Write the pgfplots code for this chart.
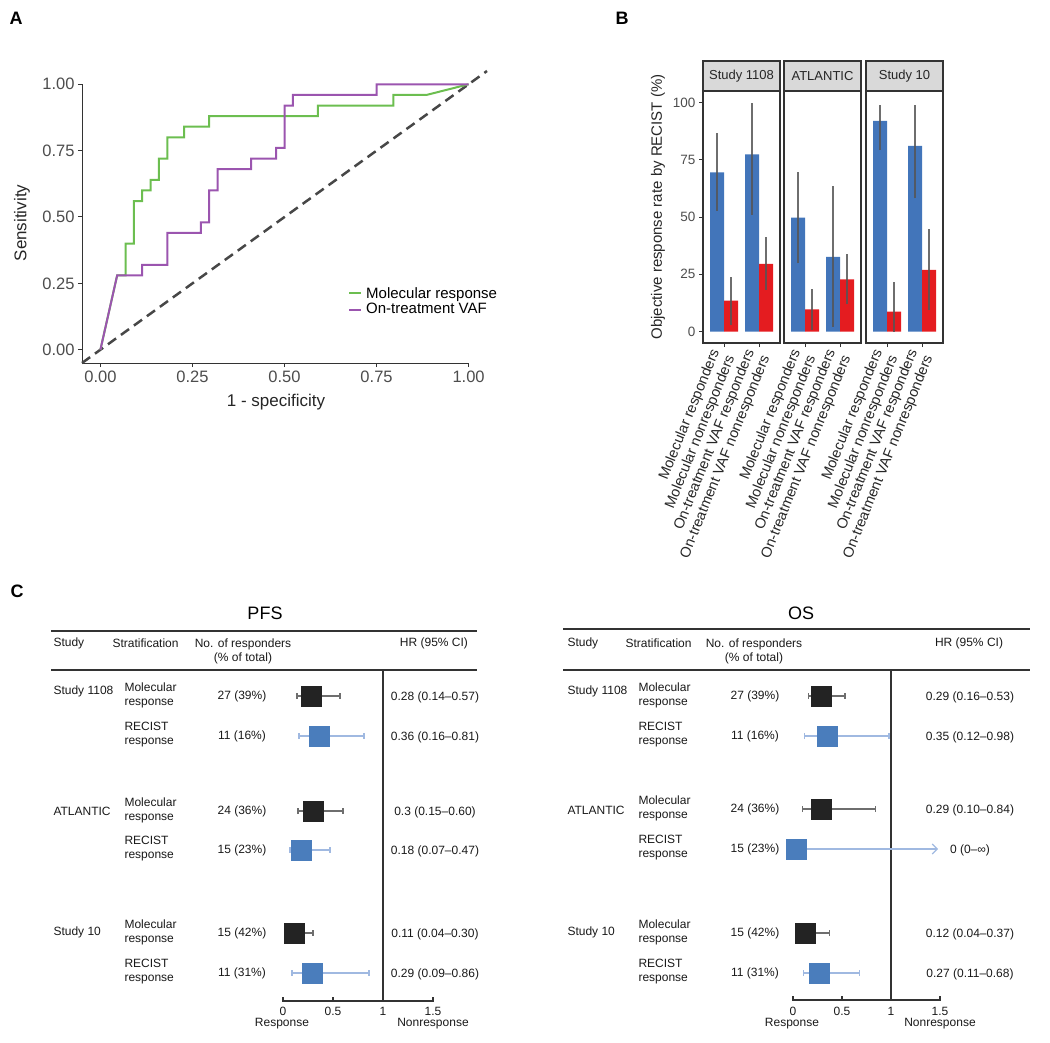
\documentclass[border=0pt]{standalone}
\usepackage{fontspec}
\setmainfont{Liberation Sans}
\usepackage{pgfplots}
\pgfplotsset{compat=1.18}
\usetikzlibrary{arrows.meta}
\definecolor{rocgreen}{RGB}{108,190,80}
\definecolor{rocpurple}{RGB}{155,85,175}
\definecolor{barblue}{RGB}{66,117,186}
\definecolor{barred}{RGB}{228,28,32}
\definecolor{gr30}{RGB}{77,77,77}
\definecolor{gr20}{RGB}{51,51,51}
\definecolor{stripgray}{RGB}{217,217,217}
\definecolor{boxblue}{RGB}{74,125,188}
\definecolor{boxblack}{RGB}{35,35,35}
\definecolor{whiskblue}{RGB}{160,185,225}
\definecolor{whiskgray}{RGB}{110,110,110}
\definecolor{errgray}{RGB}{85,85,85}
\newcommand{\fsz}[2]{\fontsize{#1}{#2}\selectfont}
\pgfplotsset{
  bpanel/.style={scale only axis, width=77pt, height=252pt, xmin=0.4, xmax=2.6, ymin=-5, ymax=105,
    axis line style={gr20, line width=1.2pt},
    xtick={1,2},
    xticklabels={{Molecular responders\\Molecular nonresponders},{On-treatment VAF responders\\On-treatment VAF nonresponders}},
    xticklabel style={rotate=68, anchor=east, align=right, font=\fsz{14.5}{16.5}, text=black!85, inner sep=1pt},
    xticklabel shift=5pt,
    tick align=outside, major tick length=4pt, tick style={gr20, line width=1pt},
    xtick pos=bottom, ytick pos=left, clip=false,
    yticklabel style={font=\fsz{13.5}{14}, text=gr30}},
  bblue/.style={ybar, bar shift=0pt, bar width=0.4, fill=barblue, draw=none},
  bred/.style={ybar, bar shift=0pt, bar width=0.4, fill=barred, draw=none},
  berr/.style={errgray, line width=1.8pt, opacity=0.85, mark=none},
  fpanel/.style={scale only axis, hide axis, clip=false},
  fblack/.style={only marks, mark=square*, mark size=10pt, boxblack, mark options={draw=boxblack, fill=boxblack},
    error bars/.cd, x dir=both, x explicit, error mark=|, error bar style={whiskgray, line width=1.2pt},
    error mark options={whiskgray, mark size=3pt, line width=1.2pt}},
  fblue/.style={only marks, mark=square*, mark size=10pt, boxblue, mark options={draw=boxblue, fill=boxblue},
    error bars/.cd, x dir=both, x explicit, error mark=|, error bar style={whiskblue, line width=1.2pt},
    error mark options={whiskblue, mark size=3pt, line width=1.2pt}},
}
\begin{document}
\begin{tikzpicture}
\path[use as bounding box] (0,0) rectangle (1050pt,-1043pt);

% ---------------- Panel A ----------------
\begin{axis}[at={(82pt,-363pt)}, anchor=south west, scale only axis, width=405pt, height=292pt,
  xmin=-0.05, xmax=1.05, ymin=-0.05, ymax=1.05,
  axis lines=left, axis line style={draw=none,-},
  xtick={0,0.25,0.5,0.75,1}, xticklabels={0.00,0.25,0.50,0.75,1.00},
  ytick={0,0.25,0.5,0.75,1}, yticklabels={0.00,0.25,0.50,0.75,1.00},
  tick align=outside, major tick length=4pt, tick style={gr20, line width=1pt},
  ticklabel style={font=\fsz{16.5}{16.5}, text=gr30}, clip=false,
  legend style={at={(axis cs:0.6725,0.244)}, anchor=north west, draw=none, fill=none,
    font=\fsz{15}{15}, inner sep=0pt, row sep=0pt,
    /tikz/every even column/.append style={column sep=3pt}},
  legend cell align=left,
  legend image code/.code={\draw[#1, line width=2pt] (0pt,0pt) -- (12pt,0pt);}]
\draw[gr20, line width=1pt] (axis cs:-0.05,-0.05) -- (axis cs:1,-0.05);
\draw[gr20, line width=1pt] (axis cs:-0.05,-0.05) -- (axis cs:-0.05,1);
\addplot[forget plot, gr20!90, line width=2.5pt, dash pattern=on 10pt off 6pt] coordinates {(-0.05,-0.05) (1.05,1.05)};
\addplot[rocgreen, line width=2pt, mark=none] coordinates {
(0,0) (0.0455,0.28) (0.0682,0.28) (0.0682,0.40) (0.0909,0.40) (0.0909,0.56) (0.1136,0.56) (0.1136,0.60)
(0.1364,0.60) (0.1364,0.64) (0.1591,0.64) (0.1591,0.72) (0.1818,0.72) (0.1818,0.80) (0.2273,0.80) (0.2273,0.84)
(0.2955,0.84) (0.2955,0.88) (0.5909,0.88) (0.5909,0.92) (0.7955,0.92) (0.7955,0.96) (0.8864,0.96) (1,1)};
\addlegendentry{\hspace{2pt}Molecular response}
\addplot[rocpurple, line width=2pt, mark=none] coordinates {
(0,0) (0.0455,0.28) (0.1136,0.28) (0.1136,0.32) (0.1818,0.32) (0.1818,0.44) (0.2727,0.44) (0.2727,0.48)
(0.2955,0.48) (0.2955,0.60) (0.3182,0.60) (0.3182,0.68) (0.4091,0.68) (0.4091,0.72) (0.4773,0.72) (0.4773,0.76)
(0.5,0.76) (0.5,0.92) (0.5227,0.92) (0.5227,0.96) (0.75,0.96) (0.75,1) (1,1)};
\addlegendentry{\hspace{2pt}On-treatment VAF}
\end{axis}

% ---------------- Panel B ----------------
\begin{axis}[bpanel, at={(703pt,-343pt)}, anchor=south west,
  ytick={0,25,50,75,100}, yticklabels={0,25,50,75,100}]
\addplot[bblue] coordinates {(0.8,69.5) (1.8,77.3)};
\addplot[bred] coordinates {(1.2,13.5) (2.2,29.5)};
\addplot[berr] coordinates {(0.8,52.8) (0.8,86.8)};
\addplot[berr] coordinates {(1.2,3) (1.2,24)};
\addplot[berr] coordinates {(1.8,50.9) (1.8,99.9)};
\addplot[berr] coordinates {(2.2,18.2) (2.2,41.4)};
\end{axis}
\begin{axis}[bpanel, at={(784pt,-343pt)}, anchor=south west, ytick=\empty]
\addplot[bblue] coordinates {(0.8,49.7) (1.8,32.6)};
\addplot[bred] coordinates {(1.2,9.7) (2.2,22.8)};
\addplot[berr] coordinates {(0.8,29.8) (0.8,69.6)};
\addplot[berr] coordinates {(1.2,0.7) (1.2,18.6)};
\addplot[berr] coordinates {(1.8,2.2) (1.8,63.5)};
\addplot[berr] coordinates {(2.2,12.1) (2.2,33.7)};
\end{axis}
\begin{axis}[bpanel, at={(866pt,-343pt)}, anchor=south west, ytick=\empty]
\addplot[bblue] coordinates {(0.8,92.0) (1.8,81.1)};
\addplot[bred] coordinates {(1.2,8.7) (2.2,26.9)};
\addplot[berr] coordinates {(0.8,79.2) (0.8,98.8)};
\addplot[berr] coordinates {(1.2,0) (1.2,21.7)};
\addplot[berr] coordinates {(1.8,58.1) (1.8,98.7)};
\addplot[berr] coordinates {(2.2,9.4) (2.2,44.6)};
\end{axis}

% ---------------- Panel C: PFS ----------------
\begin{axis}[fpanel, at={(51pt,-1001pt)}, anchor=south west, width=426pt, height=331pt,
  xmin=-2.32, xmax=1.94, ymin=-1001, ymax=-670]
\draw[gr20, line width=1.2pt] (axis cs:1,-670) -- (axis cs:1,-1001);
\draw[gr20, line width=1.2pt] (axis cs:0,-997) -- (axis cs:0,-1001) -- (axis cs:1.5,-1001) -- (axis cs:1.5,-997);
\draw[gr20, line width=1.2pt] (axis cs:0.5,-1001) -- (axis cs:0.5,-997);
\addplot[fblack] coordinates {(0.28,-696) -= (0.14,0) += (0.29,0)};
\addplot[fblue] coordinates {(0.36,-736) -= (0.20,0) += (0.45,0)};
\addplot[fblack] coordinates {(0.30,-811) -= (0.15,0) += (0.30,0)};
\addplot[fblue] coordinates {(0.18,-850) -= (0.11,0) += (0.29,0)};
\addplot[fblack] coordinates {(0.11,-933) -= (0.07,0) += (0.19,0)};
\addplot[fblue] coordinates {(0.29,-973) -= (0.20,0) += (0.57,0)};
\end{axis}

% ---------------- Panel C: OS ----------------
\begin{axis}[fpanel, at={(563pt,-1000pt)}, anchor=south west, width=467pt, height=330pt,
  xmin=-2.347, xmax=2.418, ymin=-1000, ymax=-670]
\draw[gr20, line width=1.2pt] (axis cs:1,-670) -- (axis cs:1,-1000);
\draw[gr20, line width=1.2pt] (axis cs:0,-996) -- (axis cs:0,-1000) -- (axis cs:1.5,-1000) -- (axis cs:1.5,-996);
\draw[gr20, line width=1.2pt] (axis cs:0.5,-1000) -- (axis cs:0.5,-996);
\addplot[fblack] coordinates {(0.29,-696) -= (0.13,0) += (0.24,0)};
\addplot[fblue] coordinates {(0.35,-736) -= (0.23,0) += (0.63,0)};
\addplot[fblack] coordinates {(0.29,-809) -= (0.19,0) += (0.55,0)};
\addplot[forget plot, whiskblue, line width=1.2pt, -{Straight Barb[length=5pt,width=10pt]}] coordinates {(0,-849) (1.48,-849)};
\addplot[only marks, mark=square*, mark size=10pt, boxblue, mark options={draw=boxblue, fill=boxblue}] coordinates {(0.03,-849)};
\addplot[fblack] coordinates {(0.12,-933) -= (0.08,0) += (0.25,0)};
\addplot[fblue] coordinates {(0.27,-973) -= (0.16,0) += (0.41,0)};
\end{axis}

% ---------------- Text and frames ----------------
\begin{scope}[x=1pt, y=-1pt]
\node[font=\bfseries\fsz{18}{18}] at (16,18) {A};
\node[font=\bfseries\fsz{18}{18}] at (622,18) {B};
\node[font=\bfseries\fsz{18}{18}] at (17,591) {C};
% panel A labels
\node[font=\fsz{17}{17}, text=black!85] at (276,402) {1 - specificity};
\node[font=\fsz{17}{17}, text=black!85, rotate=90] at (22,223) {Sensitivity};
% panel B strips and ylabel
\foreach \xa/\xb/\lab in {703/780/Study 1108, 784/861/ATLANTIC, 866/943/Study 10}{
  \draw[gr20, line width=1.2pt, fill=stripgray] (\xa,61) rectangle (\xb,91);
  \node[font=\fsz{13}{13}, text=black!85] at ({(\xa+\xb)/2},76) {\lab};
}
\node[font=\fsz{15}{15}, text=black!85, rotate=90] at (658,207) {Objective response rate by RECIST (\%)};
% panel C : PFS
\node[font=\fsz{18}{18}] at (265,613) {PFS};
\draw[gr20, line width=1.3pt] (51,631) -- (477,631);
\draw[gr20, line width=1.3pt] (51,670) -- (477,670);
\begin{scope}[every node/.style={font=\fsz{12}{14}, text=black!90}]
\node[anchor=west] at (50,643) {Study};
\node[anchor=west] at (109,643) {Stratification};
\node[align=center] at (243,651) {No. of responders\\(\% of total)};
\node at (434,643) {HR (95\% CI)};
\node[anchor=west] at (50,691) {Study 1108};
\node[anchor=west] at (50,811) {ATLANTIC};
\node[anchor=west] at (50,932) {Study 10};
\foreach \yy/\st/\cnt/\hr in {696/Molecular/27 (39\%)/0.28 (0.14–0.57), 736/RECIST/11 (16\%)/0.36 (0.16–0.81),
  811/Molecular/24 (36\%)/0.3 (0.15–0.60), 850/RECIST/15 (23\%)/0.18 (0.07–0.47),
  933/Molecular/15 (42\%)/0.11 (0.04–0.30), 973/RECIST/11 (31\%)/0.29 (0.09–0.86)}{
  \node[anchor=west, align=left] at (121,\yy-1) {\st\\response};
  \node at (242,\yy) {\cnt};
  \node at (435,\yy+1) {\hr};
}
\node at (283,1011) {0};
\node at (333,1011) {0.5};
\node at (383,1011) {1};
\node at (433,1011) {1.5};
\node at (282,1024) {Response};
\node at (433,1024) {Nonresponse};
\end{scope}
% panel C : OS
\node[font=\fsz{18}{18}] at (801,613) {OS};
\draw[gr20, line width=2.2pt] (563,629) -- (1030,629);
\draw[gr20, line width=1.3pt] (563,670) -- (1030,670);
\begin{scope}[every node/.style={font=\fsz{12}{14}, text=black!90}]
\node[anchor=west] at (564,643) {Study};
\node[anchor=west] at (622,643) {Stratification};
\node[align=center] at (754,651) {No. of responders\\(\% of total)};
\node at (969,643) {HR (95\% CI)};
\node[anchor=west] at (564,691) {Study 1108};
\node[anchor=west] at (564,810) {ATLANTIC};
\node[anchor=west] at (564,932) {Study 10};
\foreach \yy/\st/\cnt/\hr in {696/Molecular/27 (39\%)/0.29 (0.16–0.53), 736/RECIST/11 (16\%)/0.35 (0.12–0.98),
  809/Molecular/24 (36\%)/0.29 (0.10–0.84), 849/RECIST/15 (23\%)/0 (0–∞),
  933/Molecular/15 (42\%)/0.12 (0.04–0.37), 973/RECIST/11 (31\%)/0.27 (0.11–0.68)}{
  \node[anchor=west, align=left] at (635,\yy-1) {\st\\response};
  \node at (755,\yy) {\cnt};
  \node at (970,\yy+1) {\hr};
}
\node at (793,1011) {0};
\node at (842,1011) {0.5};
\node at (891,1011) {1};
\node at (940,1011) {1.5};
\node at (792,1024) {Response};
\node at (940,1024) {Nonresponse};
\end{scope}
\end{scope}
\end{tikzpicture}
\end{document}
